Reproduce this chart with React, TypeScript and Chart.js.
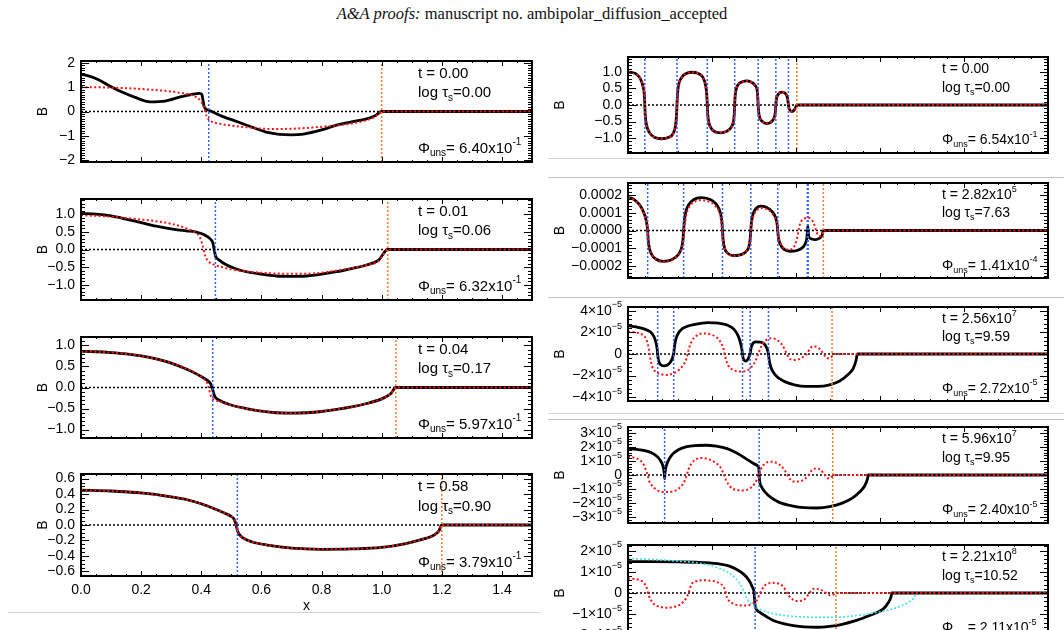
import React, { useEffect, useRef } from 'react';
import { Chart, registerables } from 'chart.js';
Chart.register(...registerables);

const FONT = "'Liberation Sans', Arial, Helvetica, sans-serif";
type P = [number, number];

// ---------------- Left column data ----------------
const p1Black: P[] = [[0,1.54],[0.03,1.45],[0.06,1.3],[0.1,1.02],[0.14,0.78],[0.18,0.58],[0.23,0.4],[0.28,0.43],[0.33,0.6],[0.37,0.71],[0.395,0.75],[0.402,0.7],[0.406,0.45],[0.41,0.18],[0.425,0.05],[0.47,-0.2],[0.52,-0.42],[0.57,-0.65],[0.62,-0.86],[0.66,-0.94],[0.7,-0.96],[0.74,-0.93],[0.8,-0.76],[0.85,-0.56],[0.9,-0.43],[0.95,-0.3],[0.98,-0.16],[1.0,0],[1.5,0]];
const p1Red: P[] = [[0,1.0],[0.05,1.0],[0.1,0.98],[0.17,0.95],[0.23,0.9],[0.28,0.85],[0.33,0.77],[0.36,0.7],[0.385,0.58],[0.4,0.4],[0.41,0.15],[0.418,-0.2],[0.43,-0.38],[0.46,-0.5],[0.5,-0.58],[0.56,-0.66],[0.63,-0.72],[0.7,-0.71],[0.77,-0.66],[0.85,-0.57],[0.9,-0.49],[0.95,-0.36],[0.98,-0.2],[1.0,0],[1.5,0]];
const p1Blue = [0.425];
const p1Orange = [1.0];

const p2Black: P[] = [[0,1.02],[0.05,1.0],[0.1,0.95],[0.15,0.86],[0.2,0.76],[0.25,0.66],[0.31,0.57],[0.35,0.53],[0.38,0.5],[0.41,0.42],[0.43,0.3],[0.438,0.2],[0.444,-0.05],[0.448,-0.2],[0.46,-0.3],[0.48,-0.42],[0.51,-0.53],[0.55,-0.63],[0.6,-0.7],[0.65,-0.75],[0.7,-0.76],[0.75,-0.75],[0.8,-0.7],[0.85,-0.63],[0.9,-0.54],[0.95,-0.44],[0.99,-0.3],[1.02,0],[1.5,0]];
const p2Red: P[] = [[0,0.97],[0.08,0.94],[0.15,0.89],[0.25,0.8],[0.3,0.73],[0.35,0.6],[0.38,0.48],[0.395,0.35],[0.405,0.1],[0.412,-0.15],[0.42,-0.3],[0.44,-0.42],[0.47,-0.5],[0.5,-0.56],[0.55,-0.62],[0.6,-0.66],[0.65,-0.68],[0.72,-0.69],[0.8,-0.66],[0.85,-0.6],[0.9,-0.53],[0.95,-0.44],[0.99,-0.32],[1.02,0],[1.5,0]];
const p2Blue = [0.447];
const p2Orange = [1.02];

const p3Black: P[] = [[0,0.86],[0.05,0.85],[0.1,0.83],[0.15,0.8],[0.2,0.75],[0.25,0.68],[0.3,0.58],[0.35,0.44],[0.39,0.3],[0.42,0.17],[0.432,0.08],[0.438,-0.05],[0.444,-0.2],[0.46,-0.3],[0.48,-0.37],[0.51,-0.44],[0.55,-0.5],[0.6,-0.56],[0.65,-0.6],[0.7,-0.61],[0.75,-0.6],[0.8,-0.57],[0.85,-0.52],[0.9,-0.46],[0.95,-0.38],[1.0,-0.27],[1.03,-0.15],[1.047,0],[1.5,0]];
const p3Red: P[] = [[0,0.86],[0.1,0.83],[0.2,0.75],[0.3,0.58],[0.35,0.45],[0.39,0.3],[0.41,0.2],[0.42,0.1],[0.426,-0.05],[0.432,-0.2],[0.44,-0.28],[0.46,-0.33],[0.5,-0.42],[0.55,-0.5],[0.6,-0.56],[0.65,-0.6],[0.7,-0.61],[0.75,-0.6],[0.8,-0.57],[0.85,-0.52],[0.9,-0.46],[0.95,-0.38],[1.0,-0.27],[1.03,-0.15],[1.047,0],[1.5,0]];
const p3Blue = [0.438];
const p3Orange = [1.047];

const p4Black: P[] = [[0,0.45],[0.1,0.44],[0.2,0.415],[0.3,0.365],[0.35,0.33],[0.4,0.275],[0.45,0.2],[0.48,0.15],[0.5,0.11],[0.51,0.07],[0.516,0.0],[0.52,-0.07],[0.526,-0.12],[0.54,-0.17],[0.57,-0.22],[0.62,-0.26],[0.7,-0.3],[0.8,-0.315],[0.9,-0.31],[1.0,-0.29],[1.08,-0.24],[1.14,-0.18],[1.17,-0.14],[1.19,-0.08],[1.2,0],[1.5,0]];
const p4Red: P[] = [[0,0.45],[0.1,0.44],[0.2,0.415],[0.3,0.365],[0.35,0.33],[0.4,0.275],[0.45,0.2],[0.48,0.15],[0.5,0.11],[0.51,0.07],[0.515,0.0],[0.52,-0.07],[0.526,-0.12],[0.54,-0.17],[0.57,-0.22],[0.62,-0.26],[0.7,-0.3],[0.8,-0.315],[0.9,-0.31],[1.0,-0.29],[1.08,-0.24],[1.14,-0.18],[1.17,-0.14],[1.19,-0.08],[1.2,0],[1.5,0]];
const p4Blue = [0.52];
const p4Orange = [1.2];

// ---------------- Right column data ----------------
const r1Black: P[] = [[0,1.0],[0.05,0.98],[0.1,0.93],[0.15,0.78],[0.18,0.55],[0.195,0.3],[0.2,0],[0.205,-0.3],[0.22,-0.6],[0.26,-0.85],[0.32,-0.98],[0.4,-1.02],[0.48,-0.98],[0.54,-0.85],[0.567,-0.6],[0.578,-0.3],[0.583,0],[0.59,0.35],[0.6,0.58],[0.64,0.84],[0.7,0.96],[0.76,0.99],[0.83,0.96],[0.89,0.84],[0.925,0.58],[0.938,0.3],[0.944,0],[0.95,-0.3],[0.96,-0.5],[1.0,-0.74],[1.05,-0.82],[1.1,-0.84],[1.16,-0.81],[1.22,-0.7],[1.255,-0.5],[1.265,-0.28],[1.27,0],[1.275,0.25],[1.285,0.45],[1.32,0.64],[1.37,0.71],[1.41,0.73],[1.46,0.7],[1.51,0.6],[1.54,0.4],[1.55,0],[1.555,-0.2],[1.565,-0.36],[1.6,-0.5],[1.65,-0.56],[1.7,-0.52],[1.74,-0.38],[1.755,-0.2],[1.76,0],[1.765,0.15],[1.775,0.26],[1.8,0.36],[1.84,0.39],[1.88,0.33],[1.9,0.2],[1.91,0],[1.915,-0.08],[1.925,-0.14],[1.95,-0.2],[1.98,-0.15],[2.0,-0.05],[2.01,0],[5,0]];
const r1Red: P[] = r1Black;
const r1Blue = [0.2, 0.583, 0.944, 1.27, 1.55, 1.76, 1.91];
const r1Orange = [2.01];

const r2Black: P[] = [[0,1.87e-4],[0.05,1.82e-4],[0.1,1.65e-4],[0.15,1.38e-4],[0.19,1.0e-4],[0.215,0.6e-4],[0.234,0],[0.24,-0.5e-4],[0.25,-0.9e-4],[0.28,-1.35e-4],[0.33,-1.62e-4],[0.42,-1.75e-4],[0.52,-1.66e-4],[0.6,-1.36e-4],[0.64,-0.95e-4],[0.655,-0.5e-4],[0.662,0],[0.67,0.5e-4],[0.685,1.0e-4],[0.72,1.45e-4],[0.78,1.75e-4],[0.87,1.87e-4],[0.97,1.78e-4],[1.05,1.5e-4],[1.1,1.0e-4],[1.118,0.5e-4],[1.125,0],[1.132,-0.5e-4],[1.15,-1.0e-4],[1.19,-1.3e-4],[1.25,-1.43e-4],[1.32,-1.4e-4],[1.4,-1.22e-4],[1.44,-0.9e-4],[1.455,-0.45e-4],[1.462,0],[1.47,0.5e-4],[1.49,0.95e-4],[1.53,1.28e-4],[1.58,1.39e-4],[1.64,1.34e-4],[1.71,1.1e-4],[1.76,0.7e-4],[1.777,0.3e-4],[1.783,0],[1.79,-0.4e-4],[1.81,-0.75e-4],[1.86,-1.08e-4],[1.93,-1.18e-4],[2.0,-1.15e-4],[2.07,-1.0e-4],[2.11,-0.75e-4],[2.13,-0.4e-4],[2.14,0.25e-4],[2.15,-0.3e-4],[2.17,-0.45e-4],[2.22,-0.52e-4],[2.27,-0.46e-4],[2.31,-0.28e-4],[2.326,0],[5,0]];
const r2Red: P[] = [[0,1.85e-4],[0.05,1.8e-4],[0.1,1.62e-4],[0.15,1.35e-4],[0.19,0.95e-4],[0.215,0.55e-4],[0.234,0],[0.242,-0.5e-4],[0.255,-0.95e-4],[0.29,-1.42e-4],[0.35,-1.68e-4],[0.43,-1.77e-4],[0.52,-1.68e-4],[0.6,-1.36e-4],[0.645,-0.9e-4],[0.66,-0.4e-4],[0.668,0],[0.68,0.5e-4],[0.7,1.0e-4],[0.74,1.42e-4],[0.8,1.65e-4],[0.87,1.73e-4],[0.96,1.65e-4],[1.04,1.4e-4],[1.09,1.0e-4],[1.11,0.5e-4],[1.12,0],[1.13,-0.55e-4],[1.15,-1.0e-4],[1.2,-1.35e-4],[1.26,-1.45e-4],[1.33,-1.4e-4],[1.4,-1.22e-4],[1.44,-0.85e-4],[1.455,-0.4e-4],[1.465,0],[1.475,0.45e-4],[1.5,0.9e-4],[1.54,1.18e-4],[1.59,1.28e-4],[1.65,1.22e-4],[1.71,1.0e-4],[1.76,0.6e-4],[1.778,0.25e-4],[1.785,0],[1.795,-0.4e-4],[1.82,-0.75e-4],[1.87,-1.05e-4],[1.93,-1.08e-4],[1.98,-0.9e-4],[2.01,-0.5e-4],[2.03,0],[2.05,0.4e-4],[2.09,0.65e-4],[2.14,0.72e-4],[2.19,0.6e-4],[2.22,0.3e-4],[2.24,0],[2.26,-0.25e-4],[2.29,-0.32e-4],[2.315,-0.2e-4],[2.326,0],[5,0]];
const r2Blue = [0.234, 0.662, 1.125, 1.462, 1.783, 2.135, 2.145];
const r2Orange = [2.326];

const r3Black: P[] = [[0,2.62e-5],[0.1,2.5e-5],[0.2,2.3e-5],[0.265,2.06e-5],[0.31,1.6e-5],[0.335,1.0e-5],[0.348,0.4e-5],[0.353,0],[0.36,-0.45e-5],[0.375,-0.85e-5],[0.4,-1.05e-5],[0.43,-1.1e-5],[0.47,-1.02e-5],[0.51,-0.7e-5],[0.532,-0.3e-5],[0.538,-0.1e-5],[0.544,0],[0.552,0.6e-5],[0.57,1.4e-5],[0.62,2.15e-5],[0.7,2.55e-5],[0.8,2.75e-5],[0.95,2.9e-5],[1.08,2.85e-5],[1.18,2.68e-5],[1.26,2.3e-5],[1.31,1.7e-5],[1.34,1.0e-5],[1.356,0.4e-5],[1.363,0],[1.37,-0.35e-5],[1.385,-0.6e-5],[1.405,-0.65e-5],[1.43,-0.45e-5],[1.448,-0.1e-5],[1.454,0],[1.462,0.45e-5],[1.48,0.9e-5],[1.52,1.12e-5],[1.57,1.1e-5],[1.62,0.95e-5],[1.655,0.5e-5],[1.668,0.15e-5],[1.672,0],[1.68,-0.5e-5],[1.7,-1.2e-5],[1.75,-1.9e-5],[1.85,-2.5e-5],[1.98,-2.85e-5],[2.12,-3.0e-5],[2.26,-3.0e-5],[2.4,-2.85e-5],[2.52,-2.5e-5],[2.62,-1.9e-5],[2.68,-1.35e-5],[2.715,-0.6e-5],[2.73,0],[5,0]];
const r3Red: P[] = [[0,2.06e-5],[0.08,2.0e-5],[0.15,1.88e-5],[0.2,1.6e-5],[0.23,1.1e-5],[0.248,0.5e-5],[0.258,0],[0.27,-0.6e-5],[0.29,-1.2e-5],[0.33,-1.65e-5],[0.4,-1.88e-5],[0.47,-1.94e-5],[0.54,-1.8e-5],[0.6,-1.5e-5],[0.66,-1.0e-5],[0.695,-0.45e-5],[0.71,0],[0.725,0.5e-5],[0.76,1.2e-5],[0.82,1.72e-5],[0.9,1.9e-5],[0.98,1.82e-5],[1.06,1.5e-5],[1.11,1.0e-5],[1.14,0.4e-5],[1.15,0],[1.165,-0.5e-5],[1.2,-1.15e-5],[1.26,-1.5e-5],[1.33,-1.63e-5],[1.4,-1.58e-5],[1.47,-1.2e-5],[1.52,-0.6e-5],[1.55,0],[1.58,0.6e-5],[1.63,1.2e-5],[1.7,1.45e-5],[1.77,1.32e-5],[1.83,0.9e-5],[1.87,0.35e-5],[1.89,0],[1.92,-0.4e-5],[1.97,-0.55e-5],[2.03,-0.5e-5],[2.08,-0.3e-5],[2.13,0],[2.17,0.55e-5],[2.22,0.7e-5],[2.27,0.55e-5],[2.31,0.2e-5],[2.33,0],[2.36,-0.35e-5],[2.4,-0.4e-5],[2.43,-0.2e-5],[2.45,0],[5,0]];
const r3Blue = [0.353, 0.544, 1.363, 1.454, 1.672];
const r3Orange = [2.429];

const r4Black: P[] = [[0,1.89e-5],[0.1,1.83e-5],[0.2,1.74e-5],[0.28,1.58e-5],[0.34,1.35e-5],[0.385,1.05e-5],[0.41,0.75e-5],[0.425,0.4e-5],[0.432,0.1e-5],[0.436,-0.25e-5],[0.44,0.1e-5],[0.448,0.45e-5],[0.47,0.9e-5],[0.52,1.42e-5],[0.6,1.8e-5],[0.7,2.02e-5],[0.8,2.1e-5],[0.93,2.12e-5],[1.05,2.05e-5],[1.18,1.88e-5],[1.3,1.55e-5],[1.42,1.1e-5],[1.5,0.8e-5],[1.55,0.6e-5],[1.558,0.45e-5],[1.562,0],[1.568,-0.45e-5],[1.59,-0.85e-5],[1.63,-1.2e-5],[1.7,-1.6e-5],[1.8,-1.95e-5],[1.95,-2.2e-5],[2.1,-2.33e-5],[2.25,-2.35e-5],[2.4,-2.25e-5],[2.55,-2.0e-5],[2.67,-1.65e-5],[2.76,-1.2e-5],[2.82,-0.75e-5],[2.85,-0.3e-5],[2.86,0],[5,0]];
const r4Red: P[] = [[0,1.3e-5],[0.08,1.22e-5],[0.15,1.02e-5],[0.19,0.7e-5],[0.215,0.3e-5],[0.234,0],[0.25,-0.4e-5],[0.285,-0.75e-5],[0.34,-1.05e-5],[0.42,-1.22e-5],[0.5,-1.2e-5],[0.58,-1.06e-5],[0.64,-0.75e-5],[0.68,-0.35e-5],[0.7,0],[0.72,0.4e-5],[0.76,0.85e-5],[0.82,1.15e-5],[0.88,1.22e-5],[0.96,1.12e-5],[1.04,0.88e-5],[1.1,0.55e-5],[1.13,0.2e-5],[1.145,0],[1.17,-0.4e-5],[1.22,-0.85e-5],[1.3,-1.08e-5],[1.38,-1.1e-5],[1.45,-0.95e-5],[1.51,-0.6e-5],[1.545,-0.2e-5],[1.561,0],[1.58,0.4e-5],[1.62,0.75e-5],[1.69,0.95e-5],[1.76,0.88e-5],[1.83,0.6e-5],[1.87,0.3e-5],[1.898,0],[1.93,-0.3e-5],[1.98,-0.47e-5],[2.04,-0.45e-5],[2.1,-0.3e-5],[2.15,0],[2.19,0.35e-5],[2.24,0.47e-5],[2.29,0.38e-5],[2.33,0.1e-5],[2.345,0],[2.37,-0.2e-5],[2.4,-0.25e-5],[2.425,-0.12e-5],[2.44,0],[5,0]];
const r4Blue = [0.436, 1.561];
const r4Orange = [2.437];

const r5Black: P[] = [[0,1.48e-5],[0.3,1.48e-5],[0.6,1.47e-5],[0.9,1.44e-5],[1.1,1.37e-5],[1.2,1.28e-5],[1.3,1.1e-5],[1.38,0.88e-5],[1.44,0.6e-5],[1.48,0.28e-5],[1.5,0.05e-5],[1.507,-0.3e-5],[1.513,-0.6e-5],[1.53,-0.78e-5],[1.57,-0.92e-5],[1.65,-1.12e-5],[1.73,-1.3e-5],[1.85,-1.45e-5],[1.97,-1.54e-5],[2.1,-1.6e-5],[2.25,-1.62e-5],[2.4,-1.58e-5],[2.55,-1.48e-5],[2.7,-1.32e-5],[2.84,-1.12e-5],[2.95,-0.95e-5],[3.04,-0.75e-5],[3.1,-0.45e-5],[3.13,-0.2e-5],[3.14,0],[5,0]];
const r5Red: P[] = [[0,0.68e-5],[0.147,0.6e-5],[0.218,0.29e-5],[0.246,-0.11e-5],[0.305,-0.51e-5],[0.38,-0.65e-5],[0.464,-0.7e-5],[0.54,-0.66e-5],[0.622,-0.54e-5],[0.7,-0.19e-5],[0.72,0],[0.76,0.44e-5],[0.82,0.57e-5],[0.9,0.6e-5],[0.98,0.58e-5],[1.058,0.52e-5],[1.157,0.13e-5],[1.177,-0.19e-5],[1.256,-0.51e-5],[1.33,-0.58e-5],[1.414,-0.59e-5],[1.48,-0.5e-5],[1.533,-0.35e-5],[1.573,0],[1.632,0.37e-5],[1.73,0.48e-5],[1.85,0.29e-5],[1.91,-0.11e-5],[2.01,-0.38e-5],[2.11,-0.27e-5],[2.16,0],[2.21,0.2e-5],[2.29,0.16e-5],[2.36,0],[2.405,-0.11e-5],[2.45,-0.06e-5],[2.476,0],[5,0]];
const r5Cyan: P[] = [[0,1.63e-5],[0.3,1.58e-5],[0.55,1.52e-5],[0.86,1.4e-5],[1.05,1.22e-5],[1.18,1.0e-5],[1.28,0.7e-5],[1.34,0.4e-5],[1.38,0.05e-5],[1.42,-0.3e-5],[1.49,-0.59e-5],[1.6,-0.82e-5],[1.73,-0.98e-5],[1.9,-1.08e-5],[2.13,-1.14e-5],[2.35,-1.15e-5],[2.52,-1.14e-5],[2.75,-1.05e-5],[2.92,-0.95e-5],[3.1,-0.8e-5],[3.23,-0.65e-5],[3.33,-0.45e-5],[3.4,-0.25e-5],[3.435,0]];
const r5Blue = [1.513];
const r5Orange = [2.476];

// ---------------- Tick labels & annotations ----------------
const leftXTicks = [0, 0.2, 0.4, 0.6, 0.8, 1.0, 1.2, 1.4];
const leftXLabels = ['0.0', '0.2', '0.4', '0.6', '0.8', '1.0', '1.2', '1.4'];
const rightXTicks = [0, 1, 2, 3, 4, 5];

const p1YTicks = [-2, -1, 0, 1, 2];
const p1YLabels = ['\u22122', '\u22121', '0', '1', '2'];
const p23YTicks = [-1, -0.5, 0, 0.5, 1];
const p23YLabels = ['\u22121.0', '\u22120.5', '0.0', '0.5', '1.0'];
const p4YTicks = [-0.6, -0.4, -0.2, 0, 0.2, 0.4, 0.6];
const p4YLabels = ['\u22120.6', '\u22120.4', '\u22120.2', '0.0', '0.2', '0.4', '0.6'];
const r2YTicks = [-2e-4, -1e-4, 0, 1e-4, 2e-4];
const r2YLabels = ['\u22120.0002', '\u22120.0001', '0.0000', '0.0001', '0.0002'];
const r3YTicks = [-4e-5, -2e-5, 0, 2e-5, 4e-5];
const r3YLabels = ['\u22124\u00d710^{\u22125}', '\u22122\u00d710^{\u22125}', '0', '2\u00d710^{\u22125}', '4\u00d710^{\u22125}'];
const r4YTicks = [-3e-5, -2e-5, -1e-5, 0, 1e-5, 2e-5, 3e-5];
const r4YLabels = ['\u22123\u00d710^{\u22125}', '\u22122\u00d710^{\u22125}', '\u22121\u00d710^{\u22125}', '0', '1\u00d710^{\u22125}', '2\u00d710^{\u22125}', '3\u00d710^{\u22125}'];
const r5YTicks = [-2e-5, -1e-5, 0, 1e-5, 2e-5];
const r5YLabels = ['\u22122\u00d710^{\u22125}', '\u22121\u00d710^{\u22125}', '0', '1\u00d710^{\u22125}', '2\u00d710^{\u22125}'];

const leftTimes = ['0.00', '0.01', '0.04', '0.58'];
const leftLogTau = ['0.00', '0.06', '0.17', '0.90'];
const leftPhi = ['6.40x10^{-1}', '6.32x10^{-1}', '5.97x10^{-1}', '3.79x10^{-1}'];
const rightTimes = ['0.00', '2.82x10^{5}', '2.56x10^{7}', '5.96x10^{7}', '2.21x10^{8}'];
const rightLogTau = ['0.00', '7.63', '9.59', '9.95', '10.52'];
const rightPhi = ['6.54x10^{-1}', '1.41x10^{-4}', '2.72x10^{-5}', '2.40x10^{-5}', '2.11x10^{-5}'];

// ---------------- Panel configuration ----------------
type Cfg = {
  id: string; col: 'L' | 'R'; top: number; h: number;
  xMax: number; yMax: number; yTicks: number[]; yLabels: string[]; yMinor: number;
  xTicks: number[]; xMinor: number; xLabels?: string[];
  black: P[]; red: P[]; cyan?: P[]; blue: number[]; orange: number[];
  time: string; logTau: string; phi: string;
};

const LBOX = { left: 81, w: 451, canvasLeft: 0, textOff: 337, titleOff: 38, textSize: 15 };
const RBOX = { left: 628, w: 420, canvasLeft: 540, textOff: 314, titleOff: 68, textSize: 14 };

const panels: Cfg[] = [
  { id: 'p1', col: 'L', top: 61, h: 101, xMax: 1.5, yMax: 2.08, yTicks: p1YTicks, yLabels: p1YLabels, yMinor: 0.1, xTicks: leftXTicks, xMinor: 0.05, black: p1Black, red: p1Red, blue: p1Blue, orange: p1Orange, time: leftTimes[0], logTau: leftLogTau[0], phi: leftPhi[0] },
  { id: 'p2', col: 'L', top: 199, h: 101, xMax: 1.5, yMax: 1.43, yTicks: p23YTicks, yLabels: p23YLabels, yMinor: 0.1, xTicks: leftXTicks, xMinor: 0.05, black: p2Black, red: p2Red, blue: p2Blue, orange: p2Orange, time: leftTimes[1], logTau: leftLogTau[1], phi: leftPhi[1] },
  { id: 'p3', col: 'L', top: 337, h: 101, xMax: 1.5, yMax: 1.2, yTicks: p23YTicks, yLabels: p23YLabels, yMinor: 0.1, xTicks: leftXTicks, xMinor: 0.05, black: p3Black, red: p3Red, blue: p3Blue, orange: p3Orange, time: leftTimes[2], logTau: leftLogTau[2], phi: leftPhi[2] },
  { id: 'p4', col: 'L', top: 474, h: 102, xMax: 1.5, yMax: 0.66, yTicks: p4YTicks, yLabels: p4YLabels, yMinor: 0.05, xTicks: leftXTicks, xMinor: 0.05, xLabels: leftXLabels, black: p4Black, red: p4Red, blue: p4Blue, orange: p4Orange, time: leftTimes[3], logTau: leftLogTau[3], phi: leftPhi[3] },
  { id: 'r1', col: 'R', top: 57, h: 96, xMax: 5, yMax: 1.45, yTicks: p23YTicks, yLabels: p23YLabels, yMinor: 0.1, xTicks: rightXTicks, xMinor: 0.2, black: r1Black, red: r1Red, blue: r1Blue, orange: r1Orange, time: rightTimes[0], logTau: rightLogTau[0], phi: rightPhi[0] },
  { id: 'r2', col: 'R', top: 183, h: 95, xMax: 5, yMax: 2.7e-4, yTicks: r2YTicks, yLabels: r2YLabels, yMinor: 2e-5, xTicks: rightXTicks, xMinor: 0.2, black: r2Black, red: r2Red, blue: r2Blue, orange: r2Orange, time: rightTimes[1], logTau: rightLogTau[1], phi: rightPhi[1] },
  { id: 'r3', col: 'R', top: 307, h: 94, xMax: 5, yMax: 4.35e-5, yTicks: r3YTicks, yLabels: r3YLabels, yMinor: 4e-6, xTicks: rightXTicks, xMinor: 0.2, black: r3Black, red: r3Red, blue: r3Blue, orange: r3Orange, time: rightTimes[2], logTau: rightLogTau[2], phi: rightPhi[2] },
  { id: 'r4', col: 'R', top: 427, h: 96, xMax: 5, yMax: 3.42e-5, yTicks: r4YTicks, yLabels: r4YLabels, yMinor: 2e-6, xTicks: rightXTicks, xMinor: 0.2, black: r4Black, red: r4Red, blue: r4Blue, orange: r4Orange, time: rightTimes[3], logTau: rightLogTau[3], phi: rightPhi[3] },
  { id: 'r5', col: 'R', top: 545, h: 96, xMax: 5, yMax: 2.27e-5, yTicks: r5YTicks, yLabels: r5YLabels, yMinor: 2e-6, xTicks: rightXTicks, xMinor: 0.2, black: r5Black, red: r5Red, cyan: r5Cyan, blue: r5Blue, orange: r5Orange, time: rightTimes[4], logTau: rightLogTau[4], phi: rightPhi[4] },
];

// ---------------- Drawing helpers ----------------
function drawRich(ctx: CanvasRenderingContext2D, s: string, x: number, y: number, size: number, align: 'left' | 'right' | 'center') {
  const parts: { t: string; k: 'n' | 'sup' | 'sub' }[] = [];
  let buf = '';
  let i = 0;
  while (i < s.length) {
    const c = s[i];
    if ((c === '^' || c === '_') && s[i + 1] === '{') {
      if (buf) { parts.push({ t: buf, k: 'n' }); buf = ''; }
      const end = s.indexOf('}', i);
      parts.push({ t: s.slice(i + 2, end), k: c === '^' ? 'sup' : 'sub' });
      i = end + 1;
    } else { buf += c; i++; }
  }
  if (buf) parts.push({ t: buf, k: 'n' });
  const small = Math.round(size * 0.66);
  const fontFor = (k: string) => `${k === 'n' ? size : small}px ${FONT}`;
  const widths = parts.map((p) => { ctx.font = fontFor(p.k); return ctx.measureText(p.t).width; });
  const total = widths.reduce((a, b) => a + b, 0);
  let cx = align === 'left' ? x : align === 'right' ? x - total : x - total / 2;
  ctx.textBaseline = 'middle';
  ctx.textAlign = 'left';
  parts.forEach((p, j) => {
    ctx.font = fontFor(p.k);
    const dy = p.k === 'sup' ? -size * 0.42 : p.k === 'sub' ? size * 0.32 : 0;
    ctx.fillText(p.t, cx, y + dy);
    cx += widths[j];
  });
}

function makeAxesPlugin(cfg: Cfg) {
  const box = cfg.col === 'L' ? LBOX : RBOX;
  return {
    id: 'idlAxes_' + cfg.id,
    afterDatasetsDraw(chart: any) {
      const { ctx, chartArea: a } = chart;
      const xs = chart.scales.x;
      const ys = chart.scales.y;
      ctx.save();
      ctx.strokeStyle = '#000';
      ctx.fillStyle = '#000';
      ctx.lineWidth = 1;
      ctx.beginPath();
      const n0 = Math.ceil(-cfg.yMax / cfg.yMinor - 1e-6);
      const n1 = Math.floor(cfg.yMax / cfg.yMinor + 1e-6);
      for (let k = n0; k <= n1; k++) {
        const py = Math.round(ys.getPixelForValue(k * cfg.yMinor)) + 0.5;
        ctx.moveTo(a.left, py); ctx.lineTo(a.left + 4, py);
        ctx.moveTo(a.right, py); ctx.lineTo(a.right - 4, py);
      }
      for (const v of cfg.yTicks) {
        const py = Math.round(ys.getPixelForValue(v)) + 0.5;
        ctx.moveTo(a.left, py); ctx.lineTo(a.left + 8, py);
        ctx.moveTo(a.right, py); ctx.lineTo(a.right - 8, py);
      }
      const m1 = Math.floor(cfg.xMax / cfg.xMinor + 1e-6);
      for (let k = 0; k <= m1; k++) {
        const px = Math.round(xs.getPixelForValue(k * cfg.xMinor)) + 0.5;
        ctx.moveTo(px, a.bottom); ctx.lineTo(px, a.bottom - 2);
        ctx.moveTo(px, a.top); ctx.lineTo(px, a.top + 2);
      }
      for (const v of cfg.xTicks) {
        const px = Math.round(xs.getPixelForValue(v)) + 0.5;
        ctx.moveTo(px, a.bottom); ctx.lineTo(px, a.bottom - 5);
        ctx.moveTo(px, a.top); ctx.lineTo(px, a.top + 5);
      }
      ctx.stroke();
      ctx.lineWidth = 2;
      ctx.strokeRect(a.left, a.top, a.right - a.left, a.bottom - a.top);

      // tick labels
      cfg.yTicks.forEach((v, i) => {
        drawRich(ctx, cfg.yLabels[i], a.left - 6, ys.getPixelForValue(v), 14, 'right');
      });
      if (cfg.xLabels) {
        cfg.xTicks.forEach((v, i) => {
          drawRich(ctx, cfg.xLabels![i], xs.getPixelForValue(v), a.bottom + 14, 14, 'center');
        });
        drawRich(ctx, 'x', (a.left + a.right) / 2, a.bottom + 30, 14, 'center');
      }
      // axis title
      ctx.save();
      ctx.translate(a.left - box.titleOff, (a.top + a.bottom) / 2);
      ctx.rotate(-Math.PI / 2);
      ctx.font = `14px ${FONT}`;
      ctx.textAlign = 'center';
      ctx.textBaseline = 'middle';
      ctx.fillText('B', 0, 0);
      ctx.restore();

      // annotations
      const tx = a.left + box.textOff;
      const h = a.bottom - a.top;
      const ts = box.textSize;
      drawRich(ctx, 't = ' + cfg.time, tx, a.top + h * 0.13, ts, 'left');
      drawRich(ctx, 'log \u03c4_{s}=' + cfg.logTau, tx, a.top + h * 0.32, ts, 'left');
      drawRich(ctx, '\u03a6_{uns}= ' + cfg.phi, tx, a.bottom - h * 0.13, ts, 'left');
      ctx.restore();
    },
  };
}

const toXY = (arr: P[]) => arr.map(([x, y]) => ({ x, y }));

function buildDatasets(cfg: Cfg) {
  const ds: any[] = [];
  const base = { showLine: true, pointRadius: 0, pointHoverRadius: 0, fill: false };
  ds.push({ ...base, data: toXY([[0, 0], [cfg.xMax, 0]]), borderColor: '#000', borderWidth: 1.5, borderDash: [2, 2], order: 6, tension: 0 });
  ds.push({ ...base, data: toXY(cfg.black), borderColor: '#000', borderWidth: 2.8, cubicInterpolationMode: 'monotone', order: 5 });
  cfg.blue.forEach((v) => ds.push({ ...base, data: toXY([[v, -cfg.yMax], [v, cfg.yMax]]), borderColor: '#2f63ff', borderWidth: 1.5, borderDash: [2, 2], order: 4, tension: 0 }));
  cfg.orange.forEach((v) => ds.push({ ...base, data: toXY([[v, -cfg.yMax], [v, cfg.yMax]]), borderColor: '#ff7a2a', borderWidth: 1.5, borderDash: [2, 2], order: 4, tension: 0 }));
  if (cfg.cyan) ds.push({ ...base, data: toXY(cfg.cyan), borderColor: '#3fe3ea', borderWidth: 1.6, borderDash: [2, 2], cubicInterpolationMode: 'monotone', order: 3 });
  ds.push({ ...base, data: toXY(cfg.red), borderColor: '#ff1010', borderWidth: 2, borderDash: [2, 2.4], cubicInterpolationMode: 'monotone', order: 2 });
  return ds;
}

function Panel({ cfg }: { cfg: Cfg }) {
  const ref = useRef<HTMLCanvasElement>(null);
  const box = cfg.col === 'L' ? LBOX : RBOX;
  const padT = 12;
  const padB = 42;
  const padL = box.left - box.canvasLeft;
  const padR = 14;
  const cw = padL + box.w + padR;
  const ch = padT + cfg.h + padB;
  useEffect(() => {
    const chart = new Chart(ref.current as HTMLCanvasElement, {
      type: 'scatter',
      data: { datasets: buildDatasets(cfg) },
      options: {
        animation: false,
        responsive: false,
        devicePixelRatio: 1,
        events: [],
        layout: { padding: { left: padL, right: padR, top: padT, bottom: padB } },
        scales: {
          x: { type: 'linear', min: 0, max: cfg.xMax, display: false },
          y: { type: 'linear', min: -cfg.yMax, max: cfg.yMax, display: false },
        },
        plugins: { legend: { display: false }, tooltip: { enabled: false } },
      } as any,
      plugins: [makeAxesPlugin(cfg)],
    });
    return () => chart.destroy();
  }, []);
  return (
    <canvas
      ref={ref}
      width={cw}
      height={ch}
      style={{ position: 'absolute', left: box.canvasLeft, top: cfg.top - padT, width: cw, height: ch }}
    />
  );
}

const grayLines = [
  { top: 612, left: 8, width: 532, color: '#d4d4d4' },
  { top: 158, left: 548, width: 500, color: '#d4d4d4' },
  { top: 177, left: 548, width: 516, color: '#c4c4c4' },
  { top: 297, left: 548, width: 516, color: '#c4c4c4' },
  { top: 413, left: 548, width: 516, color: '#d4d4d4' },
  { top: 419, left: 548, width: 516, color: '#c4c4c4' },
];

export default function App() {
  return (
    <div style={{ position: 'fixed', left: 0, top: 0, width: 1064, height: 630, overflow: 'hidden', background: '#fff' }}>
      <div style={{ position: 'absolute', left: 0, top: 4, width: 1064, textAlign: 'center', fontFamily: "'Liberation Serif', 'Times New Roman', serif", fontSize: 16.5, color: '#111', whiteSpace: 'nowrap' }}>
        <i>A&amp;A proofs:</i> manuscript no. ambipolar_diffusion_accepted
      </div>
      {grayLines.map((g, i) => (
        <div key={i} style={{ position: 'absolute', top: g.top, left: g.left, width: g.width, height: 1, background: g.color }} />
      ))}
      {panels.map((p) => <Panel key={p.id} cfg={p} />)}
    </div>
  );
}
